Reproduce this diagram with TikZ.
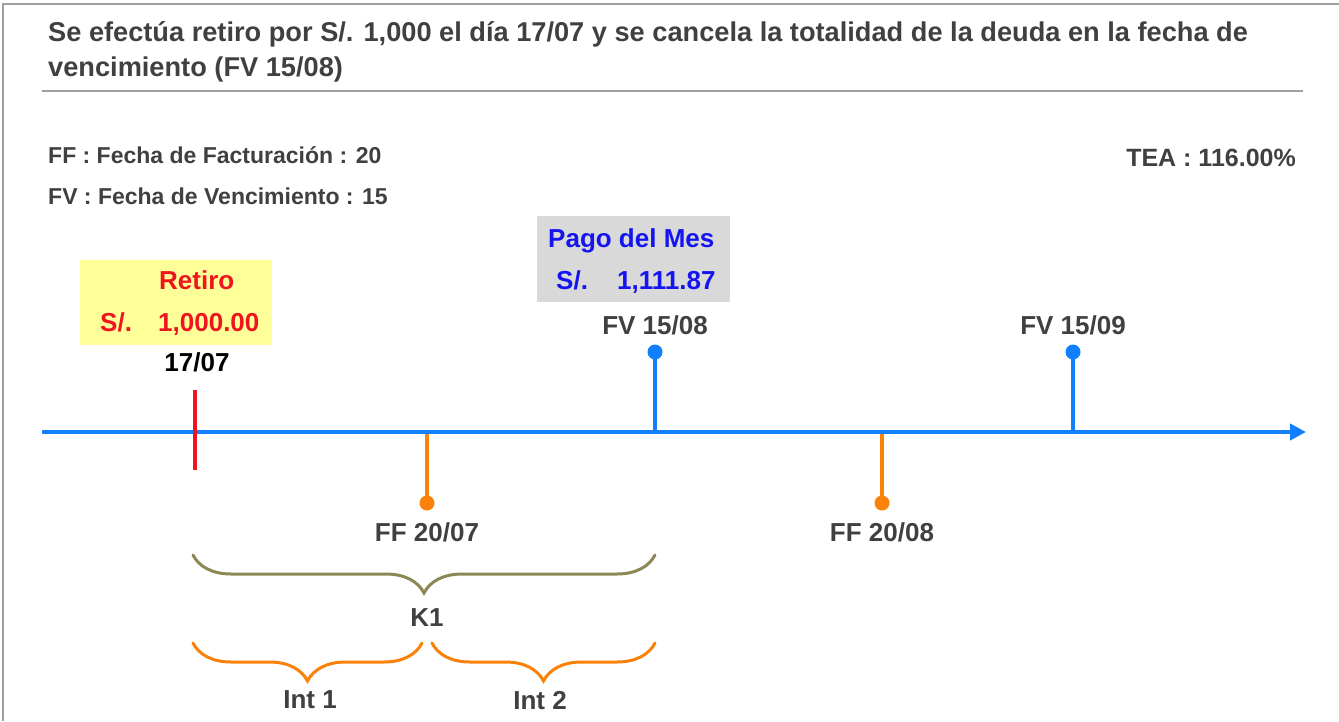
\documentclass[tikz,border=0pt]{standalone}
\usepackage{fontspec}
\setmainfont{Liberation Sans}
\usepackage{tikz}
\usetikzlibrary{arrows.meta,positioning,decorations.pathreplacing}
\definecolor{tlBlue}   {RGB}{16, 128, 255}
\definecolor{tlOrange} {RGB}{250, 130, 10}
\definecolor{tlRed}    {RGB}{240, 20,  30}
\definecolor{tlOlive}  {RGB}{140, 135, 85}
\definecolor{tlText}   {RGB}{64,  64,  64}
\definecolor{tlYellow} {RGB}{255, 255, 153}
\definecolor{tlGrayBox}{RGB}{217, 217, 217}
\definecolor{tlPago}   {RGB}{20,  20, 240}
\definecolor{tlFrame}  {RGB}{160, 160, 160}

\begin{document}
\begin{tikzpicture}[x=1pt,y=-1pt,
    lbl/.style={font=\fontsize{26}{30}\selectfont\bfseries,text=tlText,
                text depth=0pt,inner sep=0pt},
    ttl/.style={font=\fontsize{27.2}{31}\selectfont\bfseries,text=tlText,
                text depth=0pt,inner sep=0pt,anchor=west},
    leg/.style={font=\fontsize{23}{27}\selectfont\bfseries,text=tlText,
                text depth=0pt,inner sep=0pt},
    dot/.style={circle,fill,inner sep=0pt,minimum size=15pt},
    stem/.style={line width=4pt},
    brc/.style={decorate,decoration={brace,mirror,amplitude=38pt},
                line width=3pt,line cap=round}]
  \useasboundingbox (0,0) rectangle (1339,721);
  % Marco y titulo
  \draw[tlFrame,line width=2pt] (1339,4) -- (3,4) -- (3,721);
  \node[ttl] (tit1) at (48,32)
    {Se efectúa retiro por S/. 1,000 el día 17/07 y se cancela la totalidad de la deuda en la fecha de};
  \node[ttl] (tit2) at (48,67) {vencimiento (FV 15/08)};
  \draw[tlFrame,line width=1.5pt] (42,91) -- (1303,91);
  % Leyenda
  \node[leg,anchor=west] (ff) at (48,155) {FF : Fecha de Facturación : 20};
  \node[leg,anchor=west] (fv) at (48,196) {FV : Fecha de Vencimiento : 15};
  \node[leg,anchor=east,font=\fontsize{25}{29}\selectfont\bfseries] (tea)
    at (1296,158) {TEA : 116.00\%};
  % Cuadros de montos
  \node[fill=tlYellow,minimum width=192pt,minimum height=85pt,inner sep=0pt]
    (boxret) at (176,302.5) {};
  \node[lbl,text=tlRed,anchor=west] (ret) at (159,280) {Retiro};
  \node[lbl,text=tlRed,anchor=west] (retsol) at (100,322) {S/.};
  \node[lbl,text=tlRed,anchor=west] (retmon) at (158,322) {1,000.00};
  \node[fill=tlGrayBox,minimum width=193pt,minimum height=86pt,inner sep=0pt]
    (boxpag) at (633.5,259) {};
  \node[lbl,text=tlPago,anchor=west] (pag) at (548,238) {Pago del Mes};
  \node[lbl,text=tlPago,anchor=west] (pagsol) at (556,280) {S/.};
  \node[lbl,text=tlPago,anchor=west] (pagmon) at (617,280) {1,111.87};
  % Eje de tiempo
  \coordinate (ax0) at (42,432);
  \coordinate (ax9) at (1306,432);
  \coordinate (axff1) at (427,432);
  \coordinate (axfv1) at (655,432);
  \coordinate (axff2) at (882,432);
  \coordinate (axfv2) at (1073,432);
  \coordinate (r1) at (195,390);
  \coordinate (r2) at (195,470);
  \node[dot,tlBlue] (fv1) at (655,352) {};
  \node[dot,tlBlue] (fv2) at (1073,352) {};
  \node[dot,tlOrange] (ff1) at (427,503) {};
  \node[dot,tlOrange] (ff2) at (882,503) {};
  \draw[stem,tlBlue] (fv1.center) -- (axfv1);
  \draw[stem,tlBlue] (fv2.center) -- (axfv2);
  \draw[stem,tlOrange] (ff1.center) -- (axff1);
  \draw[stem,tlOrange] (ff2.center) -- (axff2);
  \draw[tlBlue,line width=4pt,-{Triangle[length=16pt,width=16pt]}] (ax0) -- (ax9);
  \draw[tlRed,line width=4pt] (r1) -- (r2);
  % Fechas
  \node[lbl] (lfv1) at (655,325) {FV 15/08};
  \node[lbl] (lfv2) at (1073,325) {FV 15/09};
  \node[lbl,text=black] (lret) at (197,362) {17/07};
  \node[lbl] (lff1) at (427,532) {FF 20/07};
  \node[lbl] (lff2) at (882,532) {FF 20/08};
  % Llaves
  \coordinate (k1a) at (193,555);
  \coordinate (k1b) at (655,555);
  \coordinate (i1a) at (193,643);
  \coordinate (i1b) at (422,643);
  \coordinate (i2a) at (432,643);
  \coordinate (i2b) at (655,643);
  \draw[brc,tlOlive] (k1a) -- (k1b);
  \draw[brc,tlOrange] (i1a) -- (i1b);
  \draw[brc,tlOrange] (i2a) -- (i2b);
  \node[lbl] (k1) at (427,618) {K1};
  \node[lbl] (int1) at (310,700) {Int 1};
  \node[lbl] (int2) at (540,700) {Int 2};
\end{tikzpicture}
\end{document}
